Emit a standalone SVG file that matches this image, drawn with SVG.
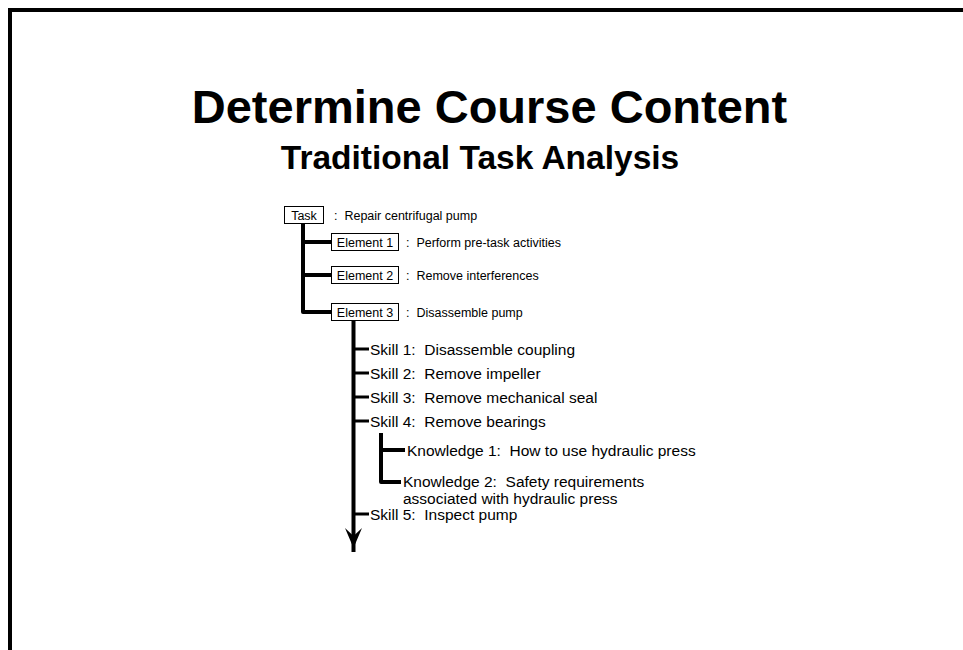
<svg xmlns="http://www.w3.org/2000/svg" width="963" height="650" viewBox="0 0 963 650">
  <style>
    .frame { fill: none; stroke: #000; stroke-width: 4; }
    .title { font-family: "Liberation Sans", Arial, sans-serif; font-weight: bold; fill: #000; text-anchor: middle; }
    .box { fill: #fff; stroke: #000; stroke-width: 1; }
    .boxlabel { font-family: "Liberation Sans", Arial, sans-serif; font-size: 12.5px; fill: #000; text-anchor: middle; }
    .desc { font-family: "Liberation Sans", Arial, sans-serif; font-size: 12.5px; fill: #000; }
    .item { font-family: "Liberation Sans", Arial, sans-serif; font-size: 15.5px; fill: #000; }
    .trunk { fill: none; stroke: #000; stroke-width: 4; stroke-linejoin: round; }
    .branch { fill: none; stroke: #000; stroke-width: 3; }
  </style>

  <!-- slide frame: top and left rules -->
  <path class="frame" d="M10,650 V10 H963"/>

  <!-- headings -->
  <text class="title" x="489.5" y="123" font-size="47">Determine Course Content</text>
  <text class="title" x="480" y="168.5" font-size="33.5">Traditional Task Analysis</text>

  <!-- connectors -->
  <g id="connectors">
    <!-- task to elements -->
    <path class="trunk" d="M303,223 V312 H331"/>
    <path class="trunk" d="M303,242 H331"/>
    <path class="trunk" d="M303,275 H331"/>
    <!-- element 3 to skills, ending in an arrow -->
    <path class="trunk" d="M353.5,320 V552"/>
    <path d="M345,528 L353.5,536 L362,528 L353.5,548 Z" fill="#000"/>
    <path class="branch" d="M353.5,349 H369"/>
    <path class="branch" d="M353.5,373 H369"/>
    <path class="branch" d="M353.5,397 H369"/>
    <path class="branch" d="M353.5,421 H369"/>
    <path class="branch" d="M353.5,514 H369"/>
    <!-- skill 4 to knowledge items -->
    <path class="trunk" d="M381,433 V482 H401"/>
    <path class="trunk" d="M381,450 H405"/>
  </g>

  <g id="task">
    <rect class="box" x="284.5" y="206.5" width="39" height="17"/>
    <text class="boxlabel" x="304" y="219.5">Task</text>
    <text class="desc" x="334" y="219.5" xml:space="preserve">:  Repair centrifugal pump</text>
  </g>

  <g id="element1">
    <rect class="box" x="331.5" y="233.5" width="67" height="17"/>
    <text class="boxlabel" x="365" y="246.5">Element 1</text>
    <text class="desc" x="406" y="246.5" xml:space="preserve">:  Perform pre-task activities</text>
  </g>

  <g id="element2">
    <rect class="box" x="331.5" y="266.5" width="67" height="17"/>
    <text class="boxlabel" x="365" y="279.5">Element 2</text>
    <text class="desc" x="406" y="279.5" xml:space="preserve">:  Remove interferences</text>
  </g>

  <g id="element3">
    <rect class="box" x="331.5" y="303.5" width="67" height="17"/>
    <text class="boxlabel" x="365" y="316.5">Element 3</text>
    <text class="desc" x="406" y="316.5" xml:space="preserve">:  Disassemble pump</text>
  </g>

  <g id="skill1"><text class="item" x="370" y="354.5" xml:space="preserve">Skill 1:  Disassemble coupling</text></g>
  <g id="skill2"><text class="item" x="370" y="378.5" xml:space="preserve">Skill 2:  Remove impeller</text></g>
  <g id="skill3"><text class="item" x="370" y="402.5" xml:space="preserve">Skill 3:  Remove mechanical seal</text></g>
  <g id="skill4"><text class="item" x="370" y="426.5" xml:space="preserve">Skill 4:  Remove bearings</text></g>

  <g id="knowledge1"><text class="item" x="407" y="455.5" xml:space="preserve">Knowledge 1:  How to use hydraulic press</text></g>
  <g id="knowledge2">
    <text class="item" x="403" y="486.5" xml:space="preserve">Knowledge 2:  Safety requirements</text>
    <text class="item" x="403" y="503.5">associated with hydraulic press</text>
  </g>

  <g id="skill5"><text class="item" x="370" y="519.5" xml:space="preserve">Skill 5:  Inspect pump</text></g>
</svg>
